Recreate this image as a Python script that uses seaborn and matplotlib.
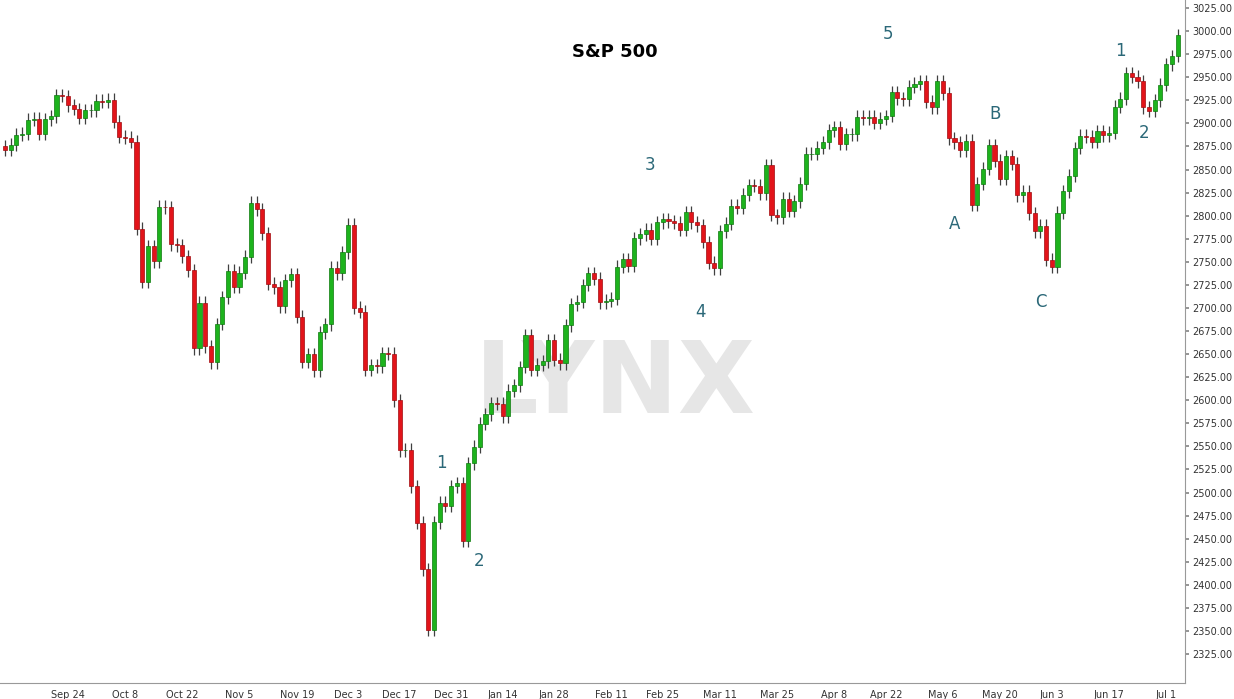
import numpy as np
import pandas as pd
import matplotlib
matplotlib.use("Agg")
import matplotlib.pyplot as plt
import seaborn as sns

closes = [2871.7,2877.1,2887.9,2888.9,2904.2,2905.0,2888.8,2904.3,2907.9,2930.8,2929.7,2919.4,2915.6,2906.0,2914.0,2914.0,
 2924.6,2923.4,2925.5,2901.6,2885.6,2884.4,2880.3,2785.7,2728.4,2767.1,2750.8,2809.9,2809.2,2768.8,2767.8,2755.9,2740.7,2656.1,2705.6,2658.7,2641.3,2682.6,2711.7,
 2740.4,2723.1,2738.3,2755.5,2813.9,2806.8,2781.0,2726.2,2722.2,2701.6,2730.2,2736.3,2690.7,2641.9,2649.9,2632.6,2673.5,2682.2,2743.8,2737.8,2760.2,
 2790.4,2700.1,2696.0,2633.1,2637.7,2636.8,2651.1,2650.5,2600.0,2545.9,2546.2,2507.0,2467.4,2416.6,2351.1,2467.7,2488.8,2485.7,2506.9,
 2510.0,2447.9,2531.9,2549.7,2574.4,2585.0,2596.6,2596.3,2582.6,2610.3,2616.1,2636.0,2670.7,2632.9,2638.7,2642.3,2664.8,2643.9,2640.0,2681.1,2704.1,
 2706.5,2724.9,2737.7,2731.6,2706.1,2707.9,2709.8,2744.7,2753.0,2745.7,2775.6,2779.8,2784.7,2774.9,2792.7,2796.1,2793.9,2792.4,2784.5,
 2803.7,2792.8,2789.7,2771.5,2748.9,2743.1,2783.3,2791.5,2810.9,2808.5,2822.5,2832.9,2832.6,2824.2,2854.9,2800.7,2798.4,2818.5,2805.4,2815.4,2834.4,
 2867.2,2867.2,2873.4,2879.4,2892.7,2895.8,2878.2,2888.2,2888.3,2907.4,2905.6,2907.1,2900.5,2905.0,2908.0,2933.7,2927.3,2926.2,2939.9,2943.0,2945.8,
 2923.7,2917.5,2945.6,2932.5,2884.1,2879.4,2870.7,2881.4,2811.9,2834.4,2851.0,2876.3,2859.5,2840.2,2864.4,2856.3,2822.2,2826.1,2802.4,2783.0,2788.9,2752.1,
 2744.5,2803.3,2826.2,2843.5,2873.3,2886.7,2885.7,2879.8,2891.6,2887.0,2889.7,2917.8,2926.5,2954.2,2950.5,2945.4,2917.4,2913.8,2924.9,2941.8,
 2964.3,2973.0,2995.8]

holidays = ["2018-11-22", "2018-12-05", "2018-12-25", "2019-01-01", "2019-01-21",
            "2019-02-18", "2019-04-19", "2019-05-27"]
tick_labels = ["Sep 24","Oct 8","Oct 22","Nov 5","Nov 19","Dec 3","Dec 17","Dec 31",
               "Jan 14","Jan 28","Feb 11","Feb 25","Mar 11","Mar 25","Apr 8","Apr 22",
               "May 6","May 20","Jun 3","Jun 17","Jul 1"]
tick_dates = ["2018-09-24","2018-10-08","2018-10-22","2018-11-05","2018-11-19","2018-12-03",
              "2018-12-17","2018-12-31","2019-01-14","2019-01-28","2019-02-11","2019-02-25",
              "2019-03-11","2019-03-25","2019-04-08","2019-04-22","2019-05-06","2019-05-20",
              "2019-06-03","2019-06-17","2019-07-01"]

dates = pd.bdate_range("2018-09-07", "2019-07-03")
dates = dates[~dates.isin(pd.to_datetime(holidays))]
n = min(len(dates), len(closes))
dates = dates[:n]
c = np.array(closes[:n])
o = np.concatenate([[2875.0], c[:-1]])
hi = np.maximum(o, c) + 7
lo = np.minimum(o, c) - 7
x = np.arange(n)
df = pd.DataFrame({"x": x, "open": o, "close": c, "high": hi, "low": lo})

sns.set_theme(style="white")
W, H = 1234, 699
fig = plt.figure(figsize=(W/100, H/100), dpi=100)
ax = fig.add_axes([0.0, 16/H, 1185/W, 1 - 16/H])

ax.text(615/1185, 1 - (385)/683, "LYNX", transform=ax.transAxes, ha="center", va="center",
        fontsize=72, fontweight="bold", color="#e6e6e6", fontfamily="Liberation Sans Narrow",
        zorder=0)

up = df[df.close >= df.open]
dn = df[df.close < df.open]
ax.vlines(df.x, df.low, df.high, color="#404040", lw=0.9, zorder=1)
ax.bar(up.x, up.close - up.open, bottom=up.open, width=0.72, color="#1db31d",
       edgecolor="#0e7a0e", linewidth=0.5, zorder=2)
ax.bar(dn.x, dn.open - dn.close, bottom=dn.close, width=0.72, color="#e2141a",
       edgecolor="#a00c10", linewidth=0.5, zorder=2)

ax.set_xlim(-0.87, 206.3)
ax.set_ylim(2293.6, 3033.7)
idx = [int(np.searchsorted(dates, pd.Timestamp(d))) for d in tick_dates]
ax.set_xticks(idx)
ax.set_xticklabels(tick_labels, fontsize=7, color="#333333")
yt = np.arange(2325, 3026, 25)
ax.yaxis.tick_right()
ax.set_yticks(yt)
ax.set_yticklabels([f"{v:.2f}" for v in yt], fontsize=7, color="#333333")
ax.tick_params(axis="both", length=3, color="#888888", pad=2)
for s in ["top", "left"]:
    ax.spines[s].set_visible(False)
for s in ["bottom", "right"]:
    ax.spines[s].set_color("#999999")
    ax.spines[s].set_linewidth(0.8)

def ftext(px, py, s, **kw):
    fig.text(px / W, 1 - py / H, s, ha="center", va="center", **kw)

ftext(615, 52, "S&P 500", fontsize=13, fontweight="bold", color="black")
for px, py, s in [(888,34,"5"),(650,165,"3"),(701,312,"4"),(441,463,"1"),(479,561,"2"),
                  (955,224,"A"),(995,114,"B"),(1041,302,"C"),(1120,51,"1"),(1144,133,"2")]:
    ftext(px, py, s, fontsize=12, color="#2b6878")

fig.savefig("out.png", dpi=100)
